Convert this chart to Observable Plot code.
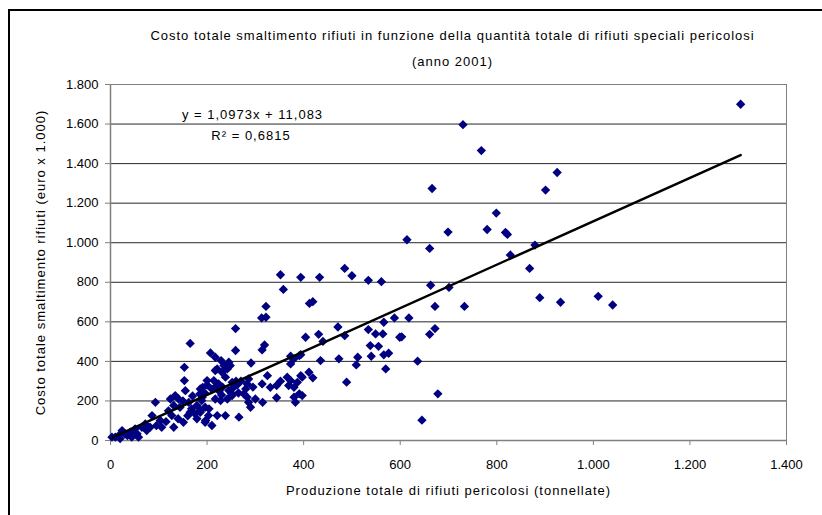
<!DOCTYPE html>
<html><head><meta charset="utf-8">
<script src="https://cdn.jsdelivr.net/npm/d3@7"></script>
<script src="https://cdn.jsdelivr.net/npm/@observablehq/plot@0.6"></script>
<style>
html,body{margin:0;padding:0;background:#fff;}
#wrap{position:relative;width:822px;height:515px;overflow:hidden;background:#fff;}
#border{position:absolute;left:8px;top:9px;width:840px;height:540px;border-top:2px solid #000;border-left:2px solid #000;}
#chart{position:absolute;left:0;top:0;}
</style></head><body>
<div id="wrap"><div id="border"></div><div id="chart"></div></div>
<script>
// Data (tonnellate, euro x 1.000)
const production = [
1305,730,768,666,925,901,799,614,699,780,818,822,661,828,879,868,663,701,889,932,1010,1040,618,672,733,603,661,672,636,678,645,
485,500,433,534,561,394,412,419,588,566,471,404,431,440,485,534,549,564,599,538,555,512,540,473,435,566,576,394,509,570,411,419,397,489,397,
352,358,322,313,322,259,319,314,259,207,291,373,229,245,235,242,217,231,238,214,252,224,255,245,252,242,228,217,286,283,280,276,283,290,286,
325,314,331,344,344,315,266,238,221,186,204,197,186,190,366,373,369,380,387,394,380,383,391,373,380,391,221,248,
165,153,153,155,93,124,134,141,131,144,162,168,179,189,196,186,175,165,191,200,217,217,103,106,131,86,72,82,179,196,203,210,151,127,
65,51,41,30,24,17,10,3,55,44,75,58,
115,140,160,150,170,230,265,300,352,260,120,95,35,20,
195,210,225,250,262,270,200,185,232,295
];
const cost = [
1700,1597,1466,1274,1355,1266,1150,1015,1054,1067,1052,1042,971,938,988,870,785,774,722,699,729,685,620,678,678,524,537,566,401,236,103,
870,833,825,810,803,825,693,702,620,598,574,522,537,501,530,561,539,539,522,480,476,421,426,413,404,433,441,434,382,362,345,317,320,295,227,
838,764,678,620,623,566,483,458,455,443,392,426,404,396,379,362,354,345,320,303,294,286,269,253,227,210,202,210,311,286,261,236,219,168,193,
328,286,269,278,216,193,118,126,126,152,160,101,261,219,320,303,278,269,294,328,219,193,236,387,413,429,362,379,
491,370,303,252,193,210,227,210,177,168,193,160,177,202,168,143,135,143,269,303,269,421,101,67,67,126,84,67,110,92,126,76,92,126,
67,59,42,34,50,25,17,17,34,17,50,17,
95,110,125,200,225,230,240,210,300,300,150,75,25,10,
240,260,250,240,280,300,280,235,270,270
];
const xTicks = [0,200,400,600,800,1000,1200,1400];
const yTicks = [0,200,400,600,800,1000,1200,1400,1600,1800];
const slope = 1.0973, intercept = 11.083, r2 = 0.6815;
const title1 = "Costo totale smaltimento rifiuti in funzione della quantità totale di rifiuti speciali pericolosi";
const title2 = "(anno 2001)";
const xLabel = "Produzione totale di rifiuti pericolosi (tonnellate)";
const yLabel = "Costo totale smaltimento rifiuti (euro x 1.000)";

const itFmt = d => d3.format(",")(d).replace(/,/g, ".");
const itDec = (v, n) => v.toFixed(n).replace(".", ",");
const eqText = `y = ${itDec(slope,4)}x + ${itDec(intercept,3)}`;
const r2Text = `R\u00B2 = ${itDec(r2,4)}`;

const rows = production.map((x, i) => ({x, y: cost[i]}));
const xExt = d3.extent(production);
const fit = xExt.map(x => ({x, y: slope * x + intercept}));

const chart = Plot.plot({
  width: 822, height: 515,
  marginLeft: 110, marginRight: 36, marginTop: 84, marginBottom: 75,
  style: {fontFamily: "'Liberation Sans', Arial, sans-serif", fontSize: "13px", background: "transparent", color: "#000"},
  x: {domain: [0, 1400]},
  y: {domain: [0, 1800]},
  marks: [
    Plot.gridY(yTicks.filter(d => d > 0), {stroke: "#000", strokeOpacity: 0.85}),
    Plot.frame({stroke: "#808080"}),
    Plot.ruleX([0], {stroke: "#808080", strokeWidth: 1.5}),
    Plot.ruleY([0], {stroke: "#808080", strokeWidth: 1.5}),
    Plot.axisX({ticks: xTicks, tickFormat: itFmt, tickSize: 5, tickPadding: 14, label: null, stroke: "#808080"}),
    Plot.axisY({ticks: yTicks, tickFormat: itFmt, tickSize: 5, tickPadding: 7, label: null, stroke: "#808080"}),
    Plot.dot(rows, {x: "x", y: "y", symbol: "diamond2", r: 4.2, fill: "#000080", stroke: "none"}),
    Plot.line(fit, {x: "x", y: "y", stroke: "#000", strokeWidth: 2.5}),
    Plot.text([title1], {frameAnchor: "top", dx: 4, dy: -48.5, textAnchor: "middle", lineAnchor: "middle", fontSize: 13}),
    Plot.text([title2], {frameAnchor: "top", dx: 4, dy: -22.5, textAnchor: "middle", lineAnchor: "middle", fontSize: 13}),
    Plot.text([eqText], {frameAnchor: "top-left", dx: 142, dy: 30.5, textAnchor: "middle", lineAnchor: "middle", fontSize: 13}),
    Plot.text([r2Text], {frameAnchor: "top-left", dx: 140.5, dy: 51, textAnchor: "middle", lineAnchor: "middle", fontSize: 13}),
    Plot.text([xLabel], {frameAnchor: "bottom", dy: 50, textAnchor: "middle", lineAnchor: "middle", fontSize: 13}),
    Plot.text([yLabel], {frameAnchor: "left", dx: -70, rotate: -90, textAnchor: "middle", lineAnchor: "middle", fontSize: 13})
  ]
});
d3.select(chart).selectAll("g[aria-label='text'] text").attr("letter-spacing", "1px");
document.getElementById("chart").appendChild(chart);
</script>
</body></html>
